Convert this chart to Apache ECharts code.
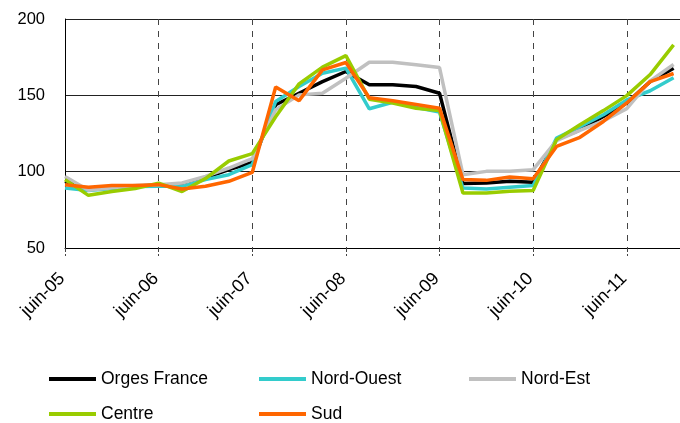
<!DOCTYPE html>
<html>
<head>
<meta charset="utf-8">
<script src="https://cdn.jsdelivr.net/npm/echarts@6/dist/echarts.min.js"></script>
<style>
  html, body { margin: 0; padding: 0; background: #fff; }
  #chart { width: 680px; height: 423px; }
</style>
</head>
<body>
<div id="chart"></div>
<script>
// trimestres de juin-05 à mars-12
const categories = [
  "juin-05", "sept-05", "déc-05", "mars-06",
  "juin-06", "sept-06", "déc-06", "mars-07",
  "juin-07", "sept-07", "déc-07", "mars-08",
  "juin-08", "sept-08", "déc-08", "mars-09",
  "juin-09", "sept-09", "déc-09", "mars-10",
  "juin-10", "sept-10", "déc-10", "mars-11",
  "juin-11", "sept-11", "déc-11", "mars-12"
];

const orgesFrance = [93.7, 88.5, 89.5, 90.5, 91.5, 91, 96, 101.3, 106, 143.8, 151.4, 159, 165.6, 156.9, 156.9, 155.8, 151.4, 92.2, 92.6, 93.7, 93, 120.9, 127.4, 136.1, 145, 159, 167.8];
const nordOuest = [89.3, 87.6, 89, 90.3, 90.4, 90.4, 94.8, 98, 104.6, 146, 155.8, 164.5, 167.8, 141.2, 145.5, 142, 139, 89.3, 88.7, 89.8, 90.9, 122, 129.5, 137.3, 147, 153, 161.5];
const nordEst = [96.9, 87.8, 89.5, 91, 91.5, 92.6, 96.9, 102.4, 108.5, 140.5, 150.3, 151.4, 161.2, 171.7, 171.7, 170, 168.2, 98, 100.2, 100.2, 101.3, 120.3, 127, 133.3, 141.3, 159.5, 170.2];
const centre = [94.8, 84.5, 87, 89, 92.5, 87, 95.5, 107, 111.8, 136, 157.5, 168.5, 176, 147.5, 145, 141.5, 140, 86, 86, 87.1, 87.6, 121, 130.7, 140, 149.8, 163.6, 183];
const sud = [91.5, 89.8, 91, 91, 91.5, 88.7, 90.4, 93.7, 99.5, 155.5, 146.5, 166.7, 171.5, 148.4, 146.4, 144, 141.6, 94.8, 94.3, 96.5, 95.4, 116.5, 122.5, 132.9, 145, 159, 164.3];

const seriesNames = ["Orges France", "Nord-Ouest", "Nord-Est", "Centre", "Sud"];
const seriesColors = ["#000000", "#33CCCC", "#C0C0C0", "#99CC00", "#FF6600"];
const seriesData = [orgesFrance, nordOuest, nordEst, centre, sud];

const fontFamily = "'Liberation Sans', Arial, sans-serif";

const chart = echarts.init(document.getElementById("chart"));

// légende en deux lignes, trois colonnes
const legendPos = [[49, 370], [259, 370], [469, 370], [49, 405], [259, 405]];
const legends = seriesNames.map((name, i) => ({
  data: [name],
  left: legendPos[i][0],
  top: legendPos[i][1],
  padding: 0,
  icon: "rect",
  itemWidth: 47,
  itemHeight: 4,
  itemGap: 5,
  selectedMode: false,
  textStyle: { fontSize: 17.5, color: "#000", fontFamily: fontFamily }
}));

const option = {
  animation: false,
  backgroundColor: "#fff",
  grid: { left: 65, top: 19, right: -17, bottom: 175, outerBoundsMode: "none", containLabel: false },
  legend: legends,
  xAxis: {
    type: "category",
    data: categories,
    boundaryGap: false,
    axisLine: { lineStyle: { color: "#000", width: 1 } },
    axisTick: {
      interval: 3,
      length: 8,
      lineStyle: { color: "#444", type: "dashed" }
    },
    axisLabel: {
      interval: 3,
      rotate: 45,
      margin: 25,
      padding: [0, 4, 0, 0],
      fontSize: 18,
      color: "#000",
      fontFamily: fontFamily
    },
    splitLine: {
      show: true,
      interval: 3,
      lineStyle: { color: "#444", type: [6, 6], width: 1 }
    }
  },
  yAxis: {
    type: "value",
    min: 50,
    max: 200,
    interval: 50,
    axisLine: { show: true, lineStyle: { color: "#000", width: 1 } },
    axisTick: { show: false },
    axisLabel: {
      margin: 20,
      fontSize: 16.5,
      color: "#000",
      fontFamily: fontFamily
    },
    splitLine: { lineStyle: { color: "#222", width: 1 } }
  },
  series: seriesNames.map((name, i) => ({
    name: name,
    type: "line",
    data: seriesData[i],
    symbol: "none",
    lineStyle: { color: seriesColors[i], width: 3.5 },
    itemStyle: { color: seriesColors[i] }
  }))
};

chart.setOption(option);
</script>
</body>
</html>
